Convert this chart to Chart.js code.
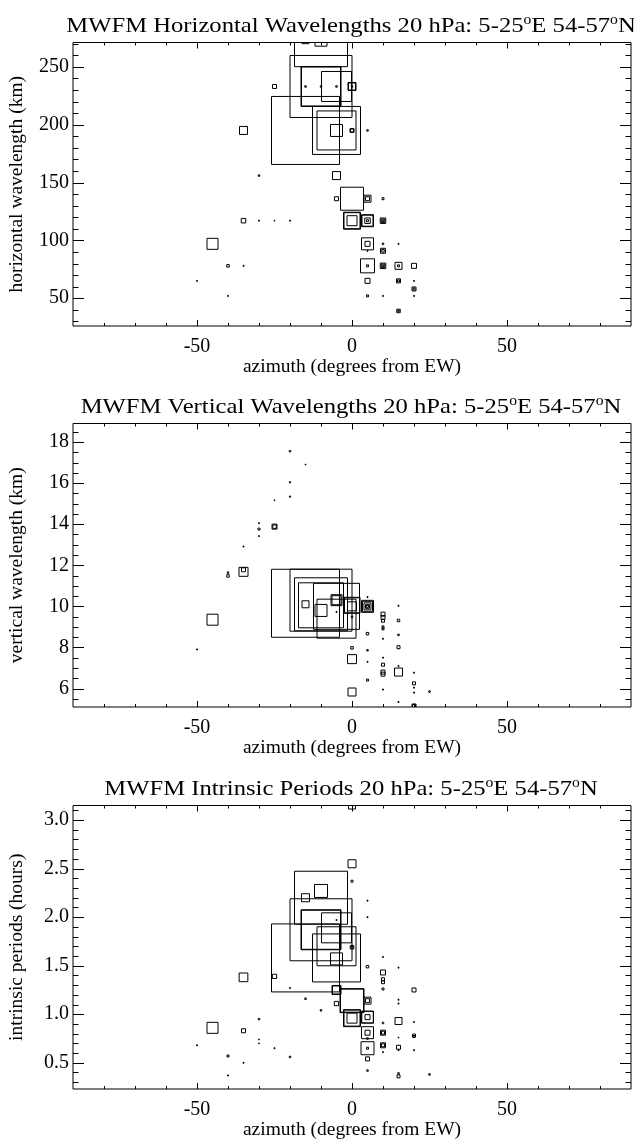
<!DOCTYPE html>
<html>
<head>
<meta charset="utf-8">
<script src="https://cdn.jsdelivr.net/npm/chart.js@4.4.1/dist/chart.umd.min.js"></script>
<style>
  body { margin: 0; background: #fff; overflow: hidden; }
  #wrap { position: relative; width: 634px; height: 1139px; }
  .panel { position: absolute; left: 0; width: 634px; height: 380px; }
</style>
</head>
<body>
<div id="wrap">
  <div class="panel" style="top:0px"><canvas id="c1"></canvas></div>
  <div class="panel" style="top:381px"><canvas id="c2"></canvas></div>
  <div class="panel" style="top:763px"><canvas id="c3"></canvas></div>
</div>
<script>
// x axis (shared)
const azTicks = [-50, 0, 50];

// panel 1: horizontal wavelength (km) vs azimuth, symbol size
const hwlAz  = [-15,-10,-10,-25,-15,-10,-5,0,0,0,-10,-10,-10,-5,-35,-15,-5,-5,-5,0,0,5,-30,-5,-5,0,5,5,10,-35,-30,-25,-20,0,0,0,5,5,5,5,10,10,10,-45,5,5,10,15,10,10,5,-40,-35,5,5,10,10,10,15,15,20,-50,5,15,15,20,20,20,-40,5,10,20,15,15];
const hwlVal = [273,273,273,233,233,233,233,233,233,233,233,233,233,233,195,195,195,195,195,195,195,195,156,156,136,136,136,136,136,117,117,117,117,117,117,117,117,117,117,117,117,117,117,97,97,97,97,97,91,91,91,78,78,78,78,78,78,78,78,78,78,65,65,65,65,65,58,58,52,52,52,52,39,39];
const hwlSym = [7,12,53,4,1.5,1.5,1.5,7,8,1.5,62,39,40,30,8,68,48,39,12,4,3,1.5,1.5,8,4,23,7,4,2,4.5,1,0.8,1,16,17,10,11,12,5.5,2,5.5,3.5,1.5,11,12,5,1.5,1,5,2.5,1,2.5,1,14,2,5.5,3.5,1.5,7,2,5,1,5,4,2,1,4,2,1,2,1,1,3.5,1.5];
const hwlTicks = [50, 100, 150, 200, 250];

// panel 2: vertical wavelength (km)
const vwlAz  = [-20,-15,-20,-20,-25,-30,-30,-25,-25,-30,-35,-35,-35,-40,-40,-45,-50,-15,-10,-10,-10,-5,-5,-15,-10,-5,-5,0,0,0,5,5,5,5,5,5,-5,0,15,10,10,10,15,10,10,15,5,10,15,0,5,0,5,10,10,10,10,15,15,5,20,20,20,20,25,0,10,15,20,20];
const vwlVal = [17.55,16.9,16.04,15.34,15.16,14.05,13.76,13.88,13.88,13.42,12.91,11.68,11.78,11.64,11.48,9.35,7.9,10.15,10.3,10.1,10.05,10.0,9.4,10.1,9.8,10.3,10.3,10.05,10.05,10.0,10,10,10,10,10,10.45,9.73,9.49,10.03,9.62,9.46,9.3,9.31,8.9,9.0,8.61,8.67,8.42,8.01,7.98,7.86,7.43,7.3,7.5,7.16,6.8,6.7,6.8,7.09,6.41,6.77,6.25,6.04,5.8,5.85,5.83,5.95,5.34,5.15,5.15];
const vwlSym = [1.5,0.8,1.2,1.2,0.8,1,2,5,3.5,1,1,9,4,1.5,2.5,11,1,68,62,53,45,46,39,7,12,11,9,16,15,9,12,10,7,4,2,1,1,1.5,1,4,4,3,2.5,2,2,1.5,2.5,1,3,2.5,1.5,9,1,1,3,4,4,8,1,2,1,3,1,1,1.5,8,1,1,3,4];
const vwlTicks = [6, 8, 10, 12, 14, 16, 18];

// panel 3: intrinsic period (hours)
const perAz  = [0,0,0,-10,-10,-15,5,-10,-10,-10,5,-5,-5,-5,-5,-15,-5,0,0,10,-25,-35,10,10,10,5,15,10,20,-5,-5,-20,0,0,-15,-5,5,5,-10,0,0,0,5,5,5,15,10,20,-30,-45,-35,5,5,10,10,20,20,-50,-30,-30,-25,-40,-20,-35,-40,5,5,5,10,10,10,15,15,15,5,5,15,15,25,20,15,15];
const perVal = [3.15,2.55,2.37,2.2,2.27,2.2,2.17,1.87,1.87,1.87,2.0,1.89,1.97,1.7,1.58,1.58,1.57,1.69,1.69,1.59,1.39,1.38,1.43,1.36,1.33,1.49,1.48,1.26,1.25,1.25,1.25,1.27,1.14,1.14,1.16,1.11,1.14,1.14,1.04,0.96,0.96,0.96,0.97,0.97,0.97,0.93,0.91,0.92,0.95,0.86,0.83,0.81,0.81,0.81,0.81,0.78,0.77,0.68,0.74,0.70,0.65,0.57,0.56,0.5,0.37,0.65,0.65,0.75,0.68,0.68,0.61,0.66,0.63,0.76,0.54,0.42,0.39,0.36,0.38,0.63,1.15,1.11];
const perSym = [7,8,2,53,13,8,1,62,39,40,1,30,1,39,48,68,12,3.5,2,1,4.3,8.7,5,3,3,2.5,1,2,4,8,9,1,23,24,1.5,4.3,7,4,1.5,17,16,10,11.5,12,5,7,1.5,1,1.5,11,4,12,5,5,3,3,2,1,0.8,0.8,1,2,1.5,1,1,13,2,1.5,5,3,1,4,1,0.8,4,1.5,1.5,3,1.5,1,1,1];
const perTicks = [0.5, 1.0, 1.5, 2.0, 2.5, 3.0];

const serif = "'Liberation Serif', 'DejaVu Serif', serif";

// IDL style box with inward major/minor ticks on all four sides, plus the title
const boxTicks = {
  id: 'boxTicks',
  afterDatasetsDraw(chart, args, opts) {
    const {ctx, chartArea: a, scales: {x, y}} = chart;
    ctx.save();
    ctx.strokeStyle = '#000';
    ctx.lineWidth = 1;
    ctx.beginPath();
    ctx.rect(a.left, a.top, a.right - a.left, a.bottom - a.top);
    const xMajor = x.ticks.map(t => t.value);
    for (let v = -80; v <= 80; v += 10) {
      const px = Math.round(x.getPixelForValue(v)) + 0.5;
      const len = xMajor.includes(v) ? 6 : 3;
      ctx.moveTo(px, a.bottom); ctx.lineTo(px, a.bottom - len);
      ctx.moveTo(px, a.top); ctx.lineTo(px, a.top + len);
    }
    const yMajor = y.ticks.map(t => t.value);
    const step = opts.minor;
    const start = Math.ceil(y.min / step - 1e-6);
    for (let i = start; i * step <= y.max + 1e-9; i++) {
      const v = i * step;
      const py = Math.round(y.getPixelForValue(v)) + 0.5;
      const len = yMajor.some(m => Math.abs(m - v) < 1e-6) ? 11 : 5.5;
      ctx.moveTo(a.left, py); ctx.lineTo(a.left + len, py);
      ctx.moveTo(a.right, py); ctx.lineTo(a.right - len, py);
    }
    ctx.stroke();

    // title, with superscript degree "o", slightly widened like the IDL font
    const parts = opts.title;
    const big = '22px ' + serif, small = '14px ' + serif;
    const stretch = 1.12;
    let w = 0;
    parts.forEach(p => { ctx.font = p.sup ? small : big; w += ctx.measureText(p.t).width; });
    const cx = (a.left + a.right) / 2 - 1;
    ctx.translate(cx - w * stretch / 2, 32);
    ctx.scale(stretch, 1);
    ctx.fillStyle = '#000';
    ctx.textBaseline = 'alphabetic';
    let xx = 0;
    parts.forEach(p => {
      ctx.font = p.sup ? small : big;
      ctx.fillText(p.t, xx, p.sup ? -8 : 0);
      xx += ctx.measureText(p.t).width;
    });
    ctx.restore();
  }
};

function makePanel(id, title, yTitle, az, val, sym, yMin, yMax, yTicks, minor, fmt) {
  return new Chart(document.getElementById(id), {
    type: 'scatter',
    data: {
      datasets: [{
        data: az.map((a, i) => ({x: a, y: val[i]})),
        pointStyle: 'rect',
        pointRadius: c => sym[c.dataIndex] / Math.SQRT2,
        backgroundColor: 'rgba(0,0,0,0)',
        borderColor: '#000',
        borderWidth: 1,
        clip: 0
      }]
    },
    options: {
      responsive: true,
      maintainAspectRatio: false,
      animation: false,
      events: [],
      devicePixelRatio: 1,
      // big symbols must not push the plot box inwards
      layout: {autoPadding: false, padding: {left: 0, right: 3, top: 42.5, bottom: 0}},
      plugins: {
        legend: {display: false},
        tooltip: {enabled: false},
        title: {display: false},
        boxTicks: {minor: minor, title: title}
      },
      scales: {
        x: {
          type: 'linear', min: -90, max: 90,
          afterBuildTicks: s => { s.ticks = azTicks.map(v => ({value: v})); },
          afterFit: s => { s.height = 54; s.paddingLeft = 0; s.paddingRight = 0; },
          grid: {display: false, drawTicks: false},
          border: {display: false},
          ticks: {color: '#000', font: {family: serif, size: 20}, padding: 9, maxRotation: 0},
          title: {display: true, text: 'azimuth (degrees from EW)', color: '#000',
                  font: {family: serif, size: 19.5}, padding: {top: 0, bottom: 1.5}}
        },
        y: {
          type: 'linear', min: yMin, max: yMax,
          afterBuildTicks: s => { s.ticks = yTicks.map(v => ({value: v})); },
          afterFit: s => { s.width = 73; s.paddingTop = 0; s.paddingBottom = 0; },
          grid: {display: false, drawTicks: false},
          border: {display: false},
          ticks: {color: '#000', font: {family: serif, size: 20}, padding: 4,
                  callback: v => fmt ? v.toFixed(1) : v},
          title: {display: true, text: yTitle, color: '#000',
                  font: {family: serif, size: 19.5}, padding: {top: 5, bottom: 0}}
        }
      }
    },
    plugins: [boxTicks]
  });
}

const place = [{t: ' 20 hPa: 5-25'}, {t: 'o', sup: true}, {t: 'E 54-57'}, {t: 'o', sup: true}, {t: 'N'}];
makePanel('c1', [{t: 'MWFM Horizontal Wavelengths'}, ...place], 'horizontal wavelength (km)',
  hwlAz, hwlVal, hwlSym, 26, 271, hwlTicks, 10, false);
makePanel('c2', [{t: 'MWFM Vertical Wavelengths'}, ...place], 'vertical wavelength (km)',
  vwlAz, vwlVal, vwlSym, 5.1, 18.9, vwlTicks, 0.5, false);
makePanel('c3', [{t: 'MWFM Intrinsic Periods'}, ...place], 'intrinsic periods (hours)',
  perAz, perVal, perSym, 0.23, 3.15, perTicks, 0.1, true);
</script>
</body>
</html>
